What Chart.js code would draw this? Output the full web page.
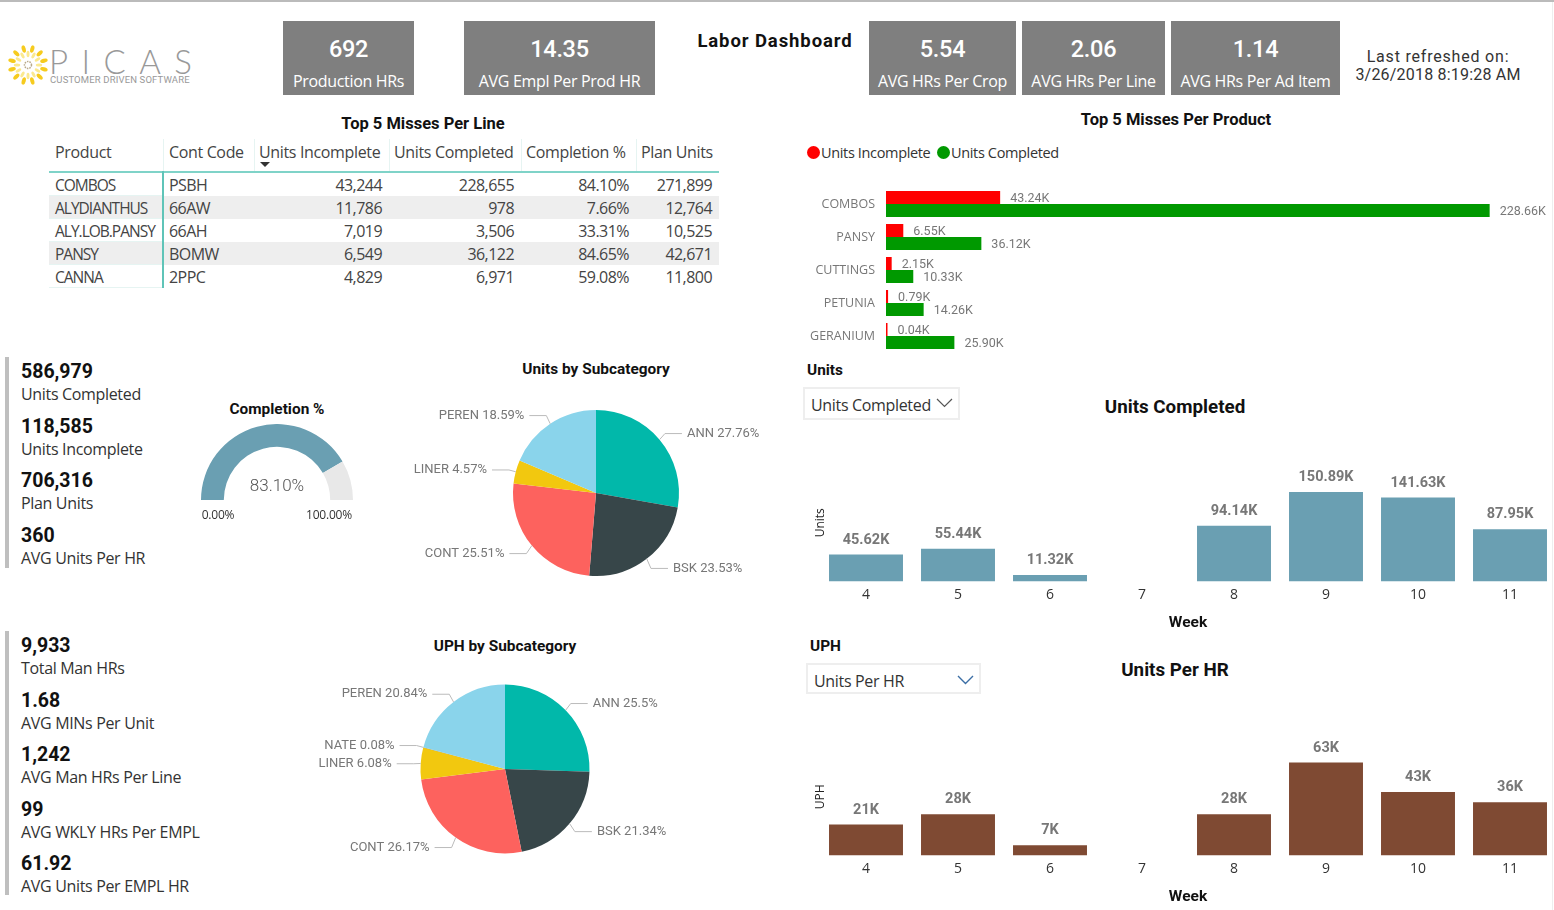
<!DOCTYPE html>
<html>
<head>
<meta charset="utf-8">
<title>Labor Dashboard</title>
<script src="https://cdn.jsdelivr.net/npm/chart.js@4"></script>
<style>
  html, body { margin: 0; padding: 0; background: #fff; overflow: hidden; }
  body { position: relative; width: 1554px; height: 910px; font-family: "Open Sans", sans-serif; color: #333; border-top: 2px solid #bbb; box-sizing: border-box; }
  #page { position: absolute; left: 0; top: -2px; width: 1554px; height: 910px; }
  canvas { position: absolute; display: block; }
  .t { position: absolute; white-space: nowrap; transform: translate(-50%, -50%); }
  .l { position: absolute; white-space: nowrap; transform: translateY(-50%); }
  .din { font-family: Roboto, sans-serif; }
  .title { font-family: Roboto, sans-serif; font-weight: 700; color: #111; font-size: 16.5px; }
  .sub { font-size: 15.4px; }
  .card { position: absolute; top: 21px; height: 74px; background: #7f7f7f; color: #fff; }
  .card .num { position: absolute; left: 0; right: 0; top: 28px; text-align: center; transform: translateY(-50%); font-family: Roboto, sans-serif; font-weight: 500; font-size: 23.5px; letter-spacing: -0.3px; }
  .card .lab { position: absolute; left: 0; right: 0; top: 60px; text-align: center; transform: translateY(-50%); font-size: 16px; letter-spacing: -0.32px; }
  .kpi { position: absolute; left: 21px; }
  .kpi div { height: 23px; line-height: 23px; white-space: nowrap; }
  .kpi .v { font-family: Roboto, sans-serif; font-weight: 700; font-size: 19.5px; color: #111; }
  .kpi .n { font-size: 16px; height: 31.45px; line-height: 23px; letter-spacing: -0.33px; color: #333; }
  .rule { position: absolute; left: 5px; width: 4px; background: #bfbfbf; }
  .cell { position: absolute; height: 23px; line-height: 23px; font-size: 16px; letter-spacing: -0.55px; white-space: nowrap; box-sizing: border-box; color: #444; }
  .cell.name { font-size: 15.5px; letter-spacing: -1px; }
  .cell.head { font-size: 16px; letter-spacing: -0.35px; }
  .slicer { font-size: 16px; letter-spacing: -0.33px; color: #333; }
  .box { position: absolute; border: 2px solid #eee; background: #fff; box-sizing: border-box; }
</style>
</head>
<body>
<div id="page">
  <div style="position:absolute;left:1552px;top:0;width:1px;height:910px;background:#eeeeee"></div>
  <svg id="logoSun" width="42" height="42" style="position:absolute;left:7px;top:44px"></svg>
  <div class="l" style="left:49px;top:61px;font-family:Lato,sans-serif;font-weight:300;font-size:33px;letter-spacing:13.4px;color:#999999">PICAS</div>
  <div class="l din" style="left:50px;top:79px;font-size:9.5px;color:#999999;letter-spacing:0.15px">CUSTOMER DRIVEN SOFTWARE</div>

  <div id="cards"></div>
  <div class="t title" style="left:775px;top:41px;font-size:18.5px;letter-spacing:0.9px">Labor Dashboard</div>
  <div class="t din" style="left:1438px;top:56px;font-size:16px;letter-spacing:0.8px;color:#333">Last refreshed on:</div>
  <div class="t din" style="left:1438px;top:74px;font-size:16px;letter-spacing:0.2px;color:#333">3/26/2018 8:19:28 AM</div>

  <div class="t title" style="left:423px;top:123px">Top 5 Misses Per Line</div>
  <div id="table"></div>

  <div class="t title" style="left:1176px;top:119px">Top 5 Misses Per Product</div>
  <div style="position:absolute;left:807px;top:146px;width:13px;height:13px;border-radius:50%;background:#f00"></div>
  <div class="l" style="left:821px;top:152px;font-size:14.5px;letter-spacing:-0.35px;color:#333">Units Incomplete</div>
  <div style="position:absolute;left:937px;top:146px;width:13px;height:13px;border-radius:50%;background:#090"></div>
  <div class="l" style="left:951px;top:152px;font-size:14.5px;letter-spacing:-0.35px;color:#333">Units Completed</div>
  <canvas id="missChart" width="754" height="180" style="left:800px;top:180px"></canvas>

  <div class="rule" style="top:357px;height:211px"></div>
  <div class="kpi" id="kpiUnits" style="top:360.4px"></div>
  <div class="rule" style="top:631px;height:264px"></div>
  <div class="kpi" id="kpiHours" style="top:634.4px"></div>

  <div class="t title sub" style="left:277px;top:409px">Completion %</div>
  <canvas id="gaugeChart" width="152" height="76" style="left:201px;top:424px"></canvas>
  <div class="t din" style="left:277px;top:485px;font-size:17px;font-weight:300;color:#555">83.10%</div>
  <div class="t" style="left:218px;top:514px;font-size:12px;letter-spacing:-0.2px;color:#333">0.00%</div>
  <div class="t" style="left:329px;top:514px;font-size:12px;letter-spacing:-0.2px;color:#333">100.00%</div>

  <div class="t title sub" style="left:596px;top:369px">Units by Subcategory</div>
  <canvas id="unitsPie" width="390" height="195" style="left:390px;top:395px"></canvas>
  <div class="t title sub" style="left:505px;top:646px">UPH by Subcategory</div>
  <canvas id="uphPie" width="390" height="200" style="left:300px;top:670px"></canvas>

  <div class="l title sub" style="left:807px;top:369.5px">Units</div>
  <div class="box" style="left:803px;top:387px;width:157px;height:33px"></div>
  <div class="l slicer" style="left:811px;top:405px">Units Completed</div>
  <svg width="18" height="10" style="position:absolute;left:936px;top:398px"><path d="M1 1 L8.5 8.5 L16 1" fill="none" stroke="#555" stroke-width="1.2"/></svg>
  <div class="t title" style="left:1175px;top:406.5px;font-size:18.8px">Units Completed</div>
  <canvas id="unitsBar" width="756" height="168" style="left:800px;top:464px"></canvas>

  <div class="l title sub" style="left:810px;top:645.5px">UPH</div>
  <div class="box" style="left:806px;top:663px;width:175px;height:31px"></div>
  <div class="l slicer" style="left:814px;top:681px">Units Per HR</div>
  <svg width="18" height="10" style="position:absolute;left:957px;top:675px"><path d="M1 1 L8.5 8.5 L16 1" fill="none" stroke="#3b6ea5" stroke-width="1.4"/></svg>
  <div class="t title" style="left:1175px;top:669.5px;font-size:18.8px">Units Per HR</div>
  <canvas id="uphBar" width="756" height="168" style="left:800px;top:738px"></canvas>
</div>

<script>
// Data
const CARD_VALUES = ["692", "14.35", "5.54", "2.06", "1.14"];
const CARD_LABELS = ["Production HRs", "AVG Empl Per Prod HR", "AVG HRs Per Crop", "AVG HRs Per Line", "AVG HRs Per Ad Item"];

const TABLE_HEAD = ["Product", "Cont Code", "Units Incomplete", "Units Completed", "Completion %", "Plan Units"];
const TABLE_PRODUCT = ["COMBOS", "ALYDIANTHUS", "ALY.LOB.PANSY", "PANSY", "CANNA"];
const TABLE_CODE = ["PSBH", "66AW", "66AH", "BOMW", "2PPC"];
const TABLE_INCOMPLETE = ["43,244", "11,786", "7,019", "6,549", "4,829"];
const TABLE_COMPLETED = ["228,655", "978", "3,506", "36,122", "6,971"];
const TABLE_PCT = ["84.10%", "7.66%", "33.31%", "84.65%", "59.08%"];
const TABLE_PLAN = ["271,899", "12,764", "10,525", "42,671", "11,800"];

const MISS_PRODUCTS = ["COMBOS", "PANSY", "CUTTINGS", "PETUNIA", "GERANIUM"];
const MISS_INCOMPLETE = [43.24, 6.55, 2.15, 0.79, 0.04];
const MISS_COMPLETED = [228.66, 36.12, 10.33, 14.26, 25.90];

const KPI_UNITS_VALUES = ["586,979", "118,585", "706,316", "360"];
const KPI_UNITS_NAMES = ["Units Completed", "Units Incomplete", "Plan Units", "AVG Units Per HR"];
const KPI_HOURS_VALUES = ["9,933", "1.68", "1,242", "99", "61.92"];
const KPI_HOURS_NAMES = ["Total Man HRs", "AVG MINs Per Unit", "AVG Man HRs Per Line", "AVG WKLY HRs Per EMPL", "AVG Units Per EMPL HR"];

const GAUGE_VALUES = [83.10, 16.90];

const UNITS_SUBCATS = ["ANN", "BSK", "CONT", "LINER", "PEREN"];
const UNITS_SHARE = [27.76, 23.53, 25.51, 4.57, 18.59];
const UPH_SUBCATS = ["ANN", "BSK", "CONT", "LINER", "NATE", "PEREN"];
const UPH_SHARE = [25.5, 21.34, 26.17, 6.08, 0.08, 20.84];

const WEEKS = ["4", "5", "6", "7", "8", "9", "10", "11"];
const UNITS_BY_WEEK = [45.62, 55.44, 11.32, null, 94.14, 150.89, 141.63, 87.95];
const UPH_BY_WEEK = [21, 28, 7, null, 28, 63, 43, 36];

const C = {
  red: "#ff0000", green: "#009900", teal: "#6a9fb2", brown: "#7f4a33", track: "#e8e8e8",
  ann: "#01b8aa", bsk: "#374649", cont: "#fd625e", liner: "#f2c80f", nate: "#5f6b6d", peren: "#8ad4eb",
  leader: "#bbbbbb",
};
const SEGOE = "'Open Sans', sans-serif";
const DIN = "Roboto, sans-serif";

// Top cards
const CARD_BOXES = [[283, 131], [464, 191], [869, 147], [1022, 143], [1171, 169]];
document.getElementById("cards").innerHTML = CARD_VALUES.map((v, i) => `
  <div class="card" style="left:${CARD_BOXES[i][0]}px;width:${CARD_BOXES[i][1]}px">
    <div class="num">${v}</div><div class="lab">${CARD_LABELS[i]}</div>
  </div>`).join("");

// Logo sun: gold outer petals, pale inner ones
let petals = "";
for (let i = 0; i < 12; i++) {
  petals += `<ellipse cx="21" cy="4.5" rx="2" ry="3.8" fill="#f6cb1e" transform="rotate(${i * 30 + 15} 21 21)"/>`;
  petals += `<ellipse cx="21" cy="10" rx="1.5" ry="3.2" fill="#fbe98f" transform="rotate(${i * 30} 21 21)"/>`;
}
document.getElementById("logoSun").innerHTML = petals + `<circle cx="21" cy="21" r="3.5" fill="none" stroke="#b9a98a" stroke-width="1.5" stroke-dasharray="1.5 1"/>`;

// Table
const COL_EDGES = [49, 163, 254, 389, 521, 636, 719];
const TABLE_TOP = 173, ROW_H = 23;
function buildTable() {
  const cols = [TABLE_PRODUCT, TABLE_CODE, TABLE_INCOMPLETE, TABLE_COMPLETED, TABLE_PCT, TABLE_PLAN];
  const full = COL_EDGES[6] - COL_EDGES[0];
  let html = "";
  TABLE_HEAD.forEach((h, c) => {
    html += `<div class="cell head" style="left:${COL_EDGES[c] + (c < 2 ? 6 : 5)}px;top:141px">${h}</div>`;
    if (c > 0) html += `<div style="position:absolute;left:${COL_EDGES[c]}px;top:139px;width:1px;height:32px;background:#e6f4f2"></div>`;
  });
  html += `<div style="position:absolute;left:${COL_EDGES[0]}px;top:171px;width:${full}px;height:2px;background:#7fd3c8"></div>`;
  html += `<div style="position:absolute;left:260px;top:162px;width:0;height:0;border-left:5px solid transparent;border-right:5px solid transparent;border-top:5px solid #333"></div>`;
  TABLE_PRODUCT.forEach((_, r) => {
    const y = TABLE_TOP + r * ROW_H;
    if (r % 2) html += `<div style="position:absolute;left:${COL_EDGES[0]}px;top:${y}px;width:${full}px;height:${ROW_H}px;background:#eeeeee"></div>`;
    html += `<div style="position:absolute;left:${COL_EDGES[0]}px;top:${y + ROW_H - 1}px;width:${COL_EDGES[1] - COL_EDGES[0]}px;height:1px;background:#e6f4f2"></div>`;
    cols.forEach((col, c) => {
      if (c === 0) html += `<div class="cell name" style="left:${COL_EDGES[c] + 6}px;top:${y + 1}px">${col[r]}</div>`;
      else if (c === 1) html += `<div class="cell" style="left:${COL_EDGES[c] + 6}px;top:${y + 1}px">${col[r]}</div>`;
      else html += `<div class="cell" style="right:${1554 - COL_EDGES[c + 1] + 7}px;top:${y + 1}px">${col[r]}</div>`;
    });
  });
  html += `<div style="position:absolute;left:${COL_EDGES[1] - 1}px;top:171px;width:2px;height:117px;background:#5fc4b8"></div>`;
  document.getElementById("table").innerHTML = html;
}
buildTable();

// KPI lists
function fillKpi(id, values, names) {
  document.getElementById(id).innerHTML = values.map((v, i) => `<div class="v">${v}</div><div class="n">${names[i]}</div>`).join("");
}
fillKpi("kpiUnits", KPI_UNITS_VALUES, KPI_UNITS_NAMES);
fillKpi("kpiHours", KPI_HOURS_VALUES, KPI_HOURS_NAMES);

// Value labels next to or above the bars
const barLabels = {
  id: "barLabels",
  afterDatasetsDraw(chart, _, opts) {
    const ctx = chart.ctx;
    ctx.save();
    ctx.font = opts.font;
    ctx.fillStyle = opts.color;
    ctx.textBaseline = "middle";
    chart.data.datasets.forEach((ds, di) => {
      chart.getDatasetMeta(di).data.forEach((bar, i) => {
        const v = ds.data[i];
        if (v === null) return;
        if (opts.side) {
          ctx.textAlign = "left";
          ctx.fillText(opts.format(v), bar.x + 10, bar.y + 1.5);
        } else {
          ctx.textAlign = "center";
          ctx.fillText(opts.format(v), bar.x, bar.y - opts.gap);
        }
      });
    });
    ctx.restore();
  },
};

// Pie labels with elbow leaders, placed from the arc's own angles
const pieLeaders = {
  id: "pieLeaders",
  afterDatasetsDraw(chart) {
    const ctx = chart.ctx;
    const ds = chart.data.datasets[0];
    ctx.save();
    ctx.font = `13px ${DIN}`;
    ctx.textBaseline = "middle";
    chart.getDatasetMeta(0).data.forEach((arc, i) => {
      const mid = (arc.startAngle + arc.endAngle) / 2;
      const r = arc.outerRadius;
      const x0 = arc.x + Math.cos(mid) * r, y0 = arc.y + Math.sin(mid) * r;
      const x1 = arc.x + Math.cos(mid) * (r + 7), y1 = arc.y + Math.sin(mid) * (r + 11) + 1;
      const right = Math.cos(mid) >= 0;
      const x2 = x1 + (right ? 17 : -17);
      ctx.strokeStyle = C.leader;
      ctx.lineWidth = 1;
      ctx.beginPath();
      ctx.moveTo(x0, y0); ctx.lineTo(x1, y1); ctx.lineTo(x2, y1);
      ctx.stroke();
      ctx.fillStyle = "#777777";
      ctx.textAlign = right ? "left" : "right";
      ctx.fillText(`${chart.data.labels[i]} ${ds.data[i]}%`, x2 + (right ? 5 : -5), y1);
    });
    ctx.restore();
  },
};

Chart.defaults.animation = false;
Chart.defaults.responsive = false;
Chart.defaults.maintainAspectRatio = false;
Chart.defaults.plugins.legend.display = false;
Chart.defaults.plugins.tooltip.enabled = false;

// Top 5 misses per product
new Chart(document.getElementById("missChart"), {
  type: "bar",
  data: {
    labels: MISS_PRODUCTS,
    datasets: [
      { label: "Units Incomplete", data: MISS_INCOMPLETE, backgroundColor: C.red, minBarLength: 1.5 },
      { label: "Units Completed", data: MISS_COMPLETED, backgroundColor: C.green },
    ],
  },
  options: {
    indexAxis: "y",
    layout: { padding: { top: 7.5, bottom: 7.5, right: 8 } },
    datasets: { bar: { barPercentage: 1, categoryPercentage: 0.79 } },
    scales: {
      x: { display: false, min: 0, max: 250 },
      y: {
        // label half-heights would otherwise squeeze the band height
        afterFit(s) { s.width = 86; s.paddingTop = 0; s.paddingBottom = 0; },
        grid: { display: false, drawTicks: false },
        border: { display: false },
        ticks: { color: "#777777", padding: 11, font: { family: SEGOE, size: 12.5 } },
      },
    },
    plugins: {
      barLabels: { side: true, font: `12.5px ${DIN}`, color: "#777777", format: (v) => v.toFixed(2) + "K" },
    },
  },
  plugins: [barLabels],
});

// Completion gauge
new Chart(document.getElementById("gaugeChart"), {
  type: "doughnut",
  data: { labels: ["Completed", "Remaining"], datasets: [{ data: GAUGE_VALUES, backgroundColor: [C.teal, C.track], borderWidth: 0 }] },
  options: { rotation: -90, circumference: 180, cutout: "70%" },
});

// Subcategory pies
function pieChart(id, labels, values, colors, padding) {
  return new Chart(document.getElementById(id), {
    type: "pie",
    data: { labels, datasets: [{ data: values, backgroundColor: colors, borderWidth: 0 }] },
    options: { layout: { padding } },
    plugins: [pieLeaders],
  });
}
pieChart("unitsPie", UNITS_SUBCATS, UNITS_SHARE, [C.ann, C.bsk, C.cont, C.liner, C.peren], { left: 123, right: 101, top: 15, bottom: 14 });
pieChart("uphPie", UPH_SUBCATS, UPH_SHARE, [C.ann, C.bsk, C.cont, C.liner, C.nate, C.peren], { left: 120.5, right: 100.5, top: 14, bottom: 16 });

// Weekly columns
function weekChart(id, values, color, yTitle, yMax, format) {
  return new Chart(document.getElementById(id), {
    type: "bar",
    data: { labels: WEEKS, datasets: [{ label: yTitle, data: values, backgroundColor: color, barPercentage: 1, categoryPercentage: 0.804 }] },
    options: {
      scales: {
        x: {
          grid: { display: false, drawTicks: false },
          border: { display: false },
          ticks: { color: "#333333", padding: 5, font: { family: SEGOE, size: 14 }, maxRotation: 0 },
          title: { display: true, text: "Week", color: "#111111", padding: { top: 5, bottom: 0 }, font: { family: DIN, size: 15.5, weight: "bold" } },
        },
        y: {
          min: 0,
          max: yMax,
          afterFit(s) { s.width = 20; },
          grid: { display: false, drawTicks: false },
          border: { display: false },
          ticks: { display: false },
          title: { display: true, text: yTitle, color: "#222222", padding: { top: 13, bottom: 0 }, font: { family: SEGOE, size: 12 } },
        },
      },
      plugins: { barLabels: { side: false, gap: 14.5, font: `bold 14.5px ${DIN}`, color: "#777777", format } },
    },
    plugins: [barLabels],
  });
}
weekChart("unitsBar", UNITS_BY_WEEK, C.teal, "Units", 198, (v) => v.toFixed(2) + "K");
weekChart("uphBar", UPH_BY_WEEK, C.brown, "UPH", 79.5, (v) => v + "K");
</script>
</body>
</html>
